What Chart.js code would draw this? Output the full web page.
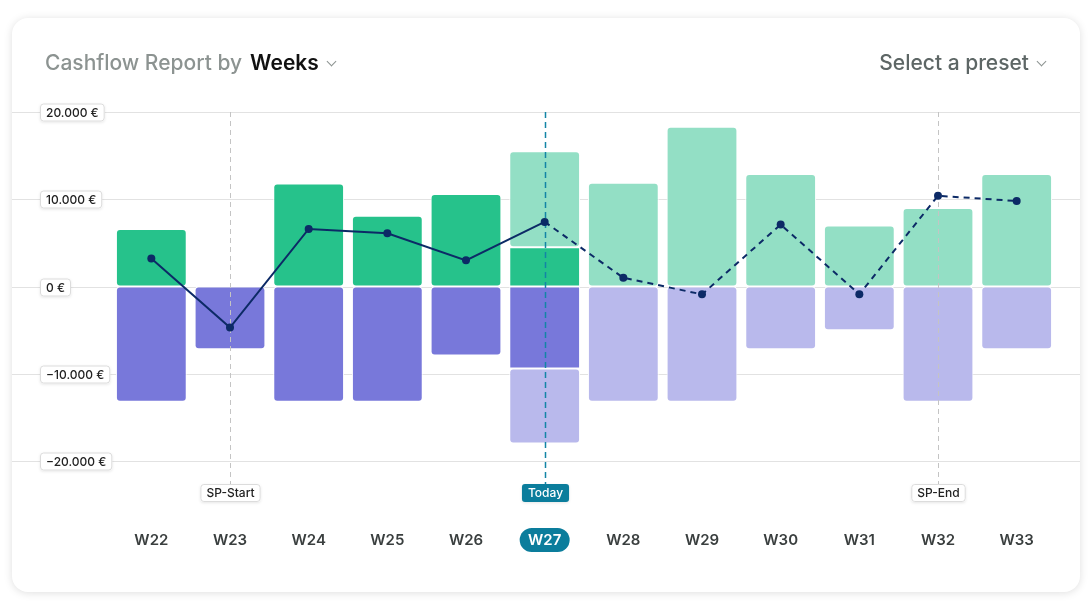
<!DOCTYPE html>
<html>
<head>
<meta charset="utf-8">
<title>Cashflow Report</title>
<script src="https://cdn.jsdelivr.net/npm/chart.js@4.4.1/dist/chart.umd.min.js"></script>
<style>
  body { margin: 0; background: #fff; font-family: Inter, "Noto Sans", sans-serif; overflow: hidden; }
  #card {
    position: absolute; left: 12px; top: 18px; width: 1068px; height: 574px;
    border-radius: 16px; background: #fff;
    box-shadow: 0 1px 9px rgba(0, 0, 0, 0.13);
  }
  #wrap { position: absolute; left: 0; top: 0; width: 1092px; height: 630px; }
  .head { position: absolute; top: 50px; font-size: 21px; line-height: 26px; white-space: nowrap; font-weight: 500; }
  #left { left: 45px; color: #8c9391; }
  #left b { color: #111; font-weight: 600; margin-left: 8px; }
  #right { right: 47px; color: #5d6665; }
  .chev { display: inline-block; width: 6px; height: 6px; border-right: 1.4px solid #8c9391;
    border-bottom: 1.4px solid #8c9391; transform: rotate(45deg); margin-left: 9px; position: relative; top: -5px; }
</style>
</head>
<body>
<div id="card"></div>
<div id="wrap"><canvas id="cashflow_chart"></canvas></div>
<div class="head" id="left">Cashflow Report by<b>Weeks</b><span class="chev"></span></div>
<div class="head" id="right">Select a preset<span class="chev"></span></div>

<script>
// chart data
const weeks = ['W22', 'W23', 'W24', 'W25', 'W26', 'W27', 'W28', 'W29', 'W30', 'W31', 'W32', 'W33'];
const incomeActual = [6600, null, 11800, 8100, 10600, 4500, null, null, null, null, null, null];
const incomeForecast = [null, null, null, null, null, 11000, 11900, 18300, 12900, 7000, 9000, 12900];
const expenseActual = [-13200, -7200, -13200, -13200, -7900, -9400, null, null, null, null, null, null];
const expenseForecast = [null, null, null, null, null, -8600, -13200, -13200, -7200, -5000, -13200, -7200];
const balance = [3200, -4700, 6600, 6100, 3000, 7400, 1000, -900, 7100, -900, 10400, 9800];
const yTicks = [20000, 10000, 0, -10000, -20000];
const todayIndex = 5;
const markerIndex = [1, 5, 10];
const markerLabel = ['SP-Start', 'Today', 'SP-End'];

const teal = '#0b7d9c';

function euro(v) {
    const s = Math.abs(v).toString().replace(/\B(?=(\d{3})+(?!\d))/g, '.');
    return (v < 0 ? '\u2212' : '') + s + ' \u20ac';
}

function badge(ctx, x, y, text, fill, color, align) {
    ctx.font = '500 12px Inter, sans-serif';
    const w = ctx.measureText(text).width + 12;
    const h = 18;
    const left = align === 'left' ? x : x - w / 2;
    ctx.save();
    ctx.shadowColor = 'rgba(0,0,0,0.10)';
    ctx.shadowBlur = 3;
    ctx.shadowOffsetY = 1;
    ctx.fillStyle = fill;
    ctx.beginPath();
    ctx.roundRect(left, y - h / 2, w, h, 3);
    ctx.fill();
    ctx.restore();
    if (fill === '#fff') {
        ctx.strokeStyle = '#dcdcdc';
        ctx.lineWidth = 1;
        ctx.beginPath();
        ctx.roundRect(left + 0.5, y - h / 2 + 0.5, w - 1, h - 1, 3);
        ctx.stroke();
    }
    ctx.fillStyle = color;
    ctx.textAlign = 'left';
    ctx.textBaseline = 'middle';
    ctx.fillText(text, left + 6, y + 0.5);
}

const overlay = {
    id: 'overlay',
    beforeDraw(chart) {
        // pill behind the current week tick
        const ctx = chart.ctx;
        const xs = chart.scales.x;
        const x = xs.getPixelForValue(todayIndex);
        const y = xs.top + xs.options.grid.tickLength + xs.options.ticks.padding + 9;
        ctx.save();
        ctx.fillStyle = teal;
        ctx.beginPath();
        ctx.roundRect(x - 25, y - 12, 50, 24, 12);
        ctx.fill();
        ctx.restore();
    },
    beforeDatasetsDraw(chart) {
        // gridlines across the card + y labels
        const ctx = chart.ctx;
        const ys = chart.scales.y;
        ctx.save();
        yTicks.forEach(function (t) {
            const y = Math.round(ys.getPixelForValue(t)) + 0.5;
            ctx.strokeStyle = '#e2e2e2';
            ctx.lineWidth = 1;
            ctx.beginPath();
            ctx.moveTo(12, y);
            ctx.lineTo(1080, y);
            ctx.stroke();
            badge(ctx, 40, y, euro(t), '#fff', '#222', 'left');
        });
        ctx.restore();
    },
    beforeDatasetDraw(chart, args) {
        // marker lines go over the bars, under the balance line
        if (args.index !== 4) return;
        const ctx = chart.ctx;
        const xs = chart.scales.x;
        const top = chart.chartArea.top;
        ctx.save();
        markerIndex.forEach(function (idx, i) {
            const x = Math.round(xs.getPixelForValue(idx)) + 0.5;
            const isToday = idx === todayIndex;
            ctx.strokeStyle = isToday ? '#1385a6' : '#c4c4c4';
            ctx.lineWidth = isToday ? 1.5 : 1;
            ctx.setLineDash(isToday ? [6, 4] : [5, 4]);
            ctx.beginPath();
            ctx.moveTo(x, top);
            ctx.lineTo(x, 485);
            ctx.stroke();
            ctx.setLineDash([]);
            badge(ctx, x, 493, markerLabel[i], isToday ? teal : '#fff', isToday ? '#fff' : '#222', 'center');
        });
        ctx.restore();
    }
};

const barStyle = {
    type: 'bar',
    stack: 'cash',
    order: 1,
    borderColor: '#fff',
    borderWidth: 1,
    borderRadius: 4,
    borderSkipped: false,
    categoryPercentage: 1,
    barPercentage: 0.9
};

const ctx = document.getElementById('cashflow_chart').getContext('2d');
const myChart = new Chart(ctx, {
    data: {
        labels: weeks,
        datasets: [
            Object.assign({ label: 'Income', data: incomeActual, backgroundColor: '#26c28b' }, barStyle),
            Object.assign({ label: 'Income forecast', data: incomeForecast, backgroundColor: '#93dfc5' }, barStyle),
            Object.assign({ label: 'Expenses', data: expenseActual, backgroundColor: '#7878da' }, barStyle),
            Object.assign({ label: 'Expenses forecast', data: expenseForecast, backgroundColor: '#b9b9ec' }, barStyle),
            {
                type: 'line',
                label: 'Balance',
                stack: 'balance',
                order: 0,
                data: balance,
                borderColor: '#0c2a66',
                borderWidth: 2,
                tension: 0,
                pointRadius: 4,
                pointHoverRadius: 4,
                pointBackgroundColor: '#0c2a66',
                pointBorderWidth: 0,
                segment: {
                    borderDash: function (c) { return c.p0DataIndex >= todayIndex ? [6, 5] : undefined; }
                }
            }
        ]
    },
    options: {
        responsive: true,
        maintainAspectRatio: false,
        animation: false,
        layout: { padding: { left: 112, right: 36, top: 112, bottom: 73 } },
        plugins: { legend: { display: false }, tooltip: { enabled: false } },
        scales: {
            x: {
                stacked: true,
                // invisible tick marks push the labels down without widening the side padding
                grid: { display: true, drawOnChartArea: false, drawTicks: true, tickLength: 62, color: 'rgba(0,0,0,0)' },
                border: { display: false },
                ticks: {
                    padding: 8,
                    font: { family: 'Inter, sans-serif', size: 15, weight: '600' },
                    color: function (c) { return c.index === todayIndex ? '#fff' : '#3a3f3f'; }
                }
            },
            y: {
                stacked: true,
                min: -20000,
                max: 20000,
                ticks: { display: false, stepSize: 10000 },
                grid: { display: false, drawTicks: false },
                border: { display: false }
            }
        }
    },
    plugins: [overlay]
});
</script>
</body>
</html>
